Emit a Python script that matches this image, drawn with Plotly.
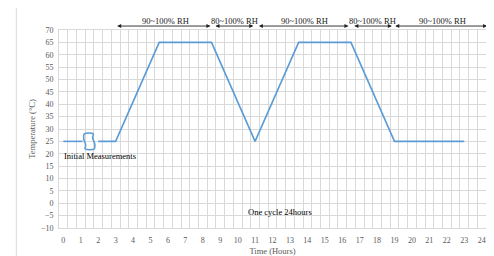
import plotly.graph_objects as go

# ---- data ----
hours = [0, 1.1, None, 2.0, 3, 5.5, 8.5, 11, 13.5, 16.5, 19, 23]
temps = [25, 25, None, 25, 25, 65, 65, 25, 65, 65, 25, 25]

# break symbol between initial measurements
brk_x = [1.2, 1.72, 1.68, 1.8, 1.78, 1.25, 1.28, 1.17, 1.2]
brk_y = [28.0, 28.0, 26.5, 24.0, 22.0, 22.0, 23.5, 26.0, 28.0]

x_ticks = list(range(0, 25))
y_ticks = list(range(-10, 71, 5))

rh_starts = [3.0, 8.64, 11.13, 16.61, 19.04]
rh_ends = [8.44, 10.9, 16.36, 18.85, 24.4]
rh_centers = [5.86, 9.8, 13.81, 17.76, 21.74]
rh_labels = ["90~100% RH", "80~100% RH", "90~100% RH", "80~100% RH", "90~100% RH"]

BLUE = "#5B9BD5"
GRID = "#D9D9D9"
FONT = "Liberation Serif"

fig = go.Figure()
fig.add_trace(go.Scatter(x=hours, y=temps, mode="lines",
                         line=dict(color=BLUE, width=1.6), connectgaps=False,
                         hoverinfo="skip", showlegend=False))
fig.add_trace(go.Scatter(x=brk_x, y=brk_y, mode="lines",
                         line=dict(color=BLUE, width=1.6, shape="spline"),
                         hoverinfo="skip", showlegend=False))

annotations = []
for s, e, c, lab in zip(rh_starts, rh_ends, rh_centers, rh_labels):
    head, tail = (s, e) if e > 24.25 else (e, s)
    annotations.append(dict(x=head, y=1.02, xref="x", yref="paper",
                            ax=tail, ay=0, axref="x", ayref="pixel",
                            text="", showarrow=True, arrowside="end+start",
                            arrowhead=2, arrowsize=0.9, arrowwidth=0.9,
                            arrowcolor="#222222", standoff=0, startstandoff=0))
    annotations.append(dict(x=c, y=1.047, xref="x", yref="paper", text=lab,
                            showarrow=False, xanchor="center", yanchor="middle",
                            font=dict(family=FONT, size=8.5, color="#1a1a1a")))

annotations.append(dict(x=-0.05, y=19.1, xref="x", yref="y", text="Initial Measurements",
                        showarrow=False, xanchor="left", yanchor="middle",
                        font=dict(family=FONT, size=8.5, color="#000000")))
annotations.append(dict(x=10.5, y=-3.6, xref="x", yref="y", text="One cycle 24hours",
                        showarrow=False, xanchor="left", yanchor="middle",
                        font=dict(family=FONT, size=8.5, color="#000000")))

shapes = [
    dict(type="line", xref="paper", yref="paper", x0=-0.1, x1=-0.1, y0=-0.2, y1=1.13,
         line=dict(color=GRID, width=1)),
    dict(type="line", xref="paper", yref="paper", x0=-0.1, x1=1.05, y0=1.13, y1=1.13,
         line=dict(color=GRID, width=1)),
    dict(type="line", xref="paper", yref="paper", x0=-0.139, x1=-0.127, y0=0.509, y1=0.484,
         line=dict(color="#333333", width=1)),
]

fig.update_layout(
    width=494, height=256,
    margin=dict(l=51.3, r=16.3, t=22, b=36.3, autoexpand=False),
    paper_bgcolor="white", plot_bgcolor="white",
    font=dict(family=FONT, size=8, color="#595959"),
    annotations=annotations, shapes=shapes,
    xaxis=dict(range=[-0.25, 24.25], tickmode="array", tickvals=x_ticks,
               ticktext=[str(v) for v in x_ticks], showgrid=False, zeroline=False,
               showline=True, mirror=True, linecolor=GRID, linewidth=1,
               ticks="outside", ticklen=4, tickcolor="rgba(0,0,0,0)",
               tickfont=dict(family=FONT, size=8, color="#595959"),
               automargin=False,
               minor=dict(tickmode="linear", tick0=0.25, dtick=0.5, showgrid=True,
                          gridcolor=GRID, gridwidth=1, ticks=""),
               title=dict(text="Time (Hours)", standoff=4,
                          font=dict(family=FONT, size=8.5, color="#595959"))),
    yaxis=dict(range=[-10, 70], tickmode="array", tickvals=y_ticks,
               showgrid=True, gridcolor=GRID, gridwidth=1, zeroline=False,
               showline=True, mirror=True, linecolor=GRID, linewidth=1,
               ticks="outside", ticklen=3, tickcolor="rgba(0,0,0,0)",
               tickfont=dict(family=FONT, size=8, color="#595959"),
               automargin=False,
               title=dict(text="Temperature (°C)", standoff=3,
                          font=dict(family=FONT, size=8.5, color="#595959"))),
)

fig.write_html("out.html")
